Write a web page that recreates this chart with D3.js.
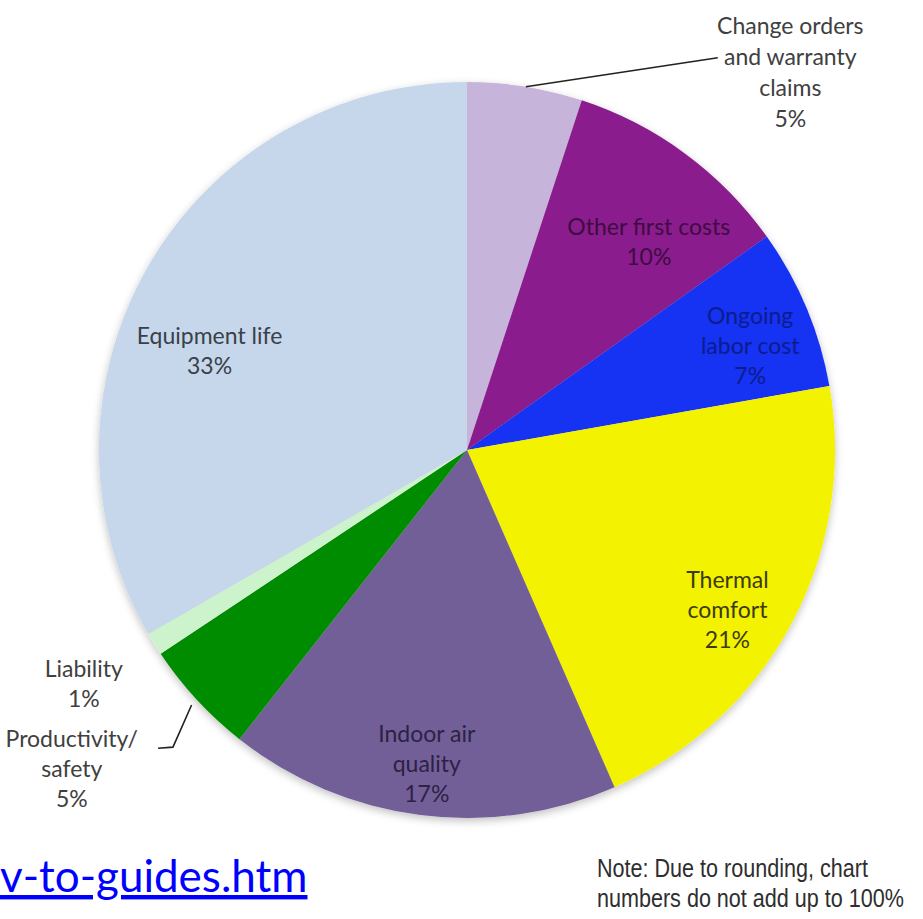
<!DOCTYPE html>
<html>
<head>
<meta charset="utf-8">
<script src="https://cdn.jsdelivr.net/npm/d3@7"></script>
<style>
  html, body { margin: 0; padding: 0; background: #ffffff; }
  svg { display: block; }
</style>
</head>
<body>
<div id="chart"></div>
<script>
// Slices clockwise from 12 o'clock
const categories = [
  "Change orders and warranty claims",
  "Other first costs",
  "Ongoing labor cost",
  "Thermal comfort",
  "Indoor air quality",
  "Productivity/ safety",
  "Liability",
  "Equipment life",
];
const shares = [5, 10, 7, 21, 17, 5, 1, 33];
const labelLines = [
  ["Change orders", "and warranty", "claims"],
  ["Other first costs"],
  ["Ongoing", "labor cost"],
  ["Thermal", "comfort"],
  ["Indoor air", "quality"],
  ["Productivity/", "safety"],
  ["Liability"],
  ["Equipment life"],
];
const noteLines = ["Note: Due to rounding, chart", "numbers do not add up to 100%"];
const linkText = "v-to-guides.htm";

// ---------------------------------------------------------------
// Styling / layout (kept apart from the data)
// ---------------------------------------------------------------
const W = 923, H = 919;
const cx = 467, cy = 450, R = 368;

const fills = ["#c6b4da", "#8b1b8d", "#1530f2", "#f3f200", "#735e97", "#068c06", "#cdf3cd", "#c6d7eb"];
const textFill = ["#404040", "#3e0b42", "#0c1d8e", "#3b3a12", "#2c2245", "#404040", "#404040", "#3a3f4a"];

// label block centre as [angle in degrees from 12 o'clock, radius as a fraction of R]
const labelPolar = [
  [40.6, 1.35], [41.2, 0.75], [69.8, 0.82], [121.5, 0.83],
  [187.3, 0.86], [231.1, 1.38], [238.6, 1.22], [291.1, 0.75],
];
// leader lines for the two outside slices: [angle, radius fraction] points
const leaders = [
  { slice: 0, pts: [[9.2, 1.0], [32.6, 1.265]] },
  { slice: 5, pts: [[227.2, 1.02], [224.7, 1.136], [226.0, 1.167]] },
];

const font = "Lato, 'Open Sans', sans-serif";

const svg = d3.select("#chart").append("svg")
  .attr("width", W)
  .attr("height", H);

const defs = svg.append("defs");
const blur = defs.append("filter").attr("id", "soft")
  .attr("x", "-10%").attr("y", "-10%").attr("width", "120%").attr("height", "120%");
blur.append("feGaussianBlur").attr("in", "SourceAlpha").attr("stdDeviation", 4);
blur.append("feOffset").attr("dx", 0).attr("dy", 3).attr("result", "off");
blur.append("feComponentTransfer").append("feFuncA").attr("type", "linear").attr("slope", 0.25);
const merge = blur.append("feMerge");
merge.append("feMergeNode");
merge.append("feMergeNode").attr("in", "SourceGraphic");

const g = svg.append("g").attr("transform", `translate(${cx},${cy})`);

const pie = d3.pie().sort(null).value(d => d);
const arcs = pie(shares);
const arc = d3.arc().innerRadius(0).outerRadius(R);

// polar helper: angle in degrees (0 = up, clockwise), radius fraction of R
const rad = d3.scaleLinear().domain([0, 1]).range([0, R]);
const polar = ([deg, k]) => {
  const a = deg * Math.PI / 180;
  return [Math.sin(a) * rad(k), -Math.cos(a) * rad(k)];
};

g.append("g")
  .attr("filter", "url(#soft)")
  .selectAll("path")
  .data(arcs)
  .join("path")
  .attr("d", arc)
  .attr("fill", (d, i) => fills[i]);

// Leader lines
g.selectAll("path.leader")
  .data(leaders)
  .join("path")
  .attr("class", "leader")
  .attr("d", d => d3.line()(d.pts.map(polar)))
  .attr("fill", "none")
  .attr("stroke", "#222")
  .attr("stroke-width", 1.6);

// Slice labels
const lineH = 30;
arcs.forEach((d, i) => {
  const lines = labelLines[i].concat([`${shares[i]}%`]);
  const [x, y] = polar(labelPolar[i]);
  const lh = i === 0 ? 31 : lineH;
  const t = g.append("text")
    .attr("text-anchor", "middle")
    .style("font-family", font)
    .style("font-size", "23px")
    .style("fill", textFill[i]);
  lines.forEach((s, j) => {
    t.append("tspan")
      .attr("x", x)
      .attr("y", y + (j - (lines.length - 1) / 2) * lh + 8)
      .text(s);
  });
});

// Cut-off link at the bottom left
svg.append("text")
  .attr("x", 0)
  .attr("y", 892)
  .style("font-family", font)
  .style("font-size", "44px")
  .style("fill", "#0000ff")
  .style("text-decoration", "underline")
  .text(linkText);

// Footnote (narrow face, so squeeze horizontally)
const note = svg.append("text")
  .attr("transform", "translate(597,0) scale(0.83,1)")
  .style("font-family", "'Liberation Sans', Arial, sans-serif")
  .style("font-size", "26px")
  .style("fill", "#2e2e2e");
noteLines.forEach((s, j) => {
  note.append("tspan")
    .attr("x", 0)
    .attr("y", 877 + j * 30)
    .text(s);
});
</script>
</body>
</html>
